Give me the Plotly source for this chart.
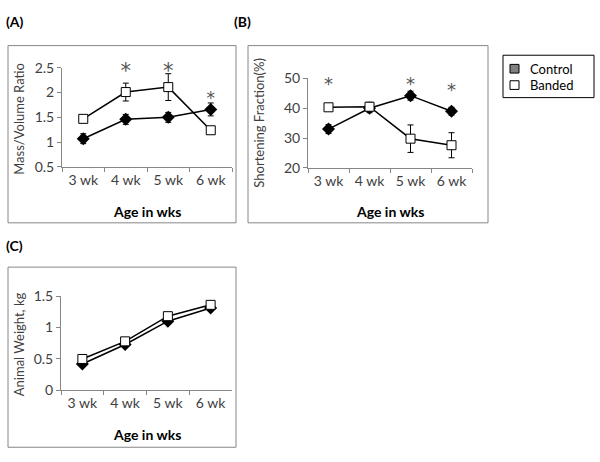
import plotly.graph_objects as go

weeks = ["3 wk", "4 wk", "5 wk", "6 wk"]

# Panel A: Mass/Volume ratio
a_control = [1.07, 1.46, 1.50, 1.66]
a_control_err = [0.10, 0.10, 0.10, 0.13]
a_banded = [1.47, 2.01, 2.11, 1.24]
a_banded_err = [0.03, 0.18, 0.27, 0.07]
a_star_weeks = ["4 wk", "5 wk", "6 wk"]
a_star_y = [2.40, 2.40, 1.86]
a_star_size = [21, 21, 17]

# Panel B: Shortening fraction (%)
b_control = [33.0, 40.0, 44.2, 39.0]
b_control_err = [1.5, 1.5, 1.5, 1.3]
b_banded = [40.3, 40.5, 29.8, 27.6]
b_banded_err = [1.0, 1.5, 4.6, 4.2]
b_star_weeks = ["3 wk", "5 wk", "6 wk"]
b_star_y = [47.5, 47.5, 45.5]
b_star_size = [18, 18, 18]

# Panel C: Animal weight (kg)
c_control = [0.42, 0.73, 1.10, 1.31]
c_control_err = [0.03, 0.03, 0.04, 0.03]
c_banded = [0.50, 0.78, 1.18, 1.36]
c_banded_err = [0.04, 0.04, 0.05, 0.04]

legend_names = ["Control", "Banded"]
legend_fills = ["#808080", "white"]

W, H = 600, 462
FONT = "Lato"

def px(x):
    return x / W

def py(y):
    return 1 - y / H

fig = go.Figure()

panels = [
    ("x", "y", a_control, a_control_err, a_banded, a_banded_err),
    ("x2", "y2", b_control, b_control_err, b_banded, b_banded_err),
    ("x3", "y3", c_control, c_control_err, c_banded, c_banded_err),
]

for xa, ya, cv, ce, bv, be in panels:
    fig.add_trace(go.Scatter(
        x=weeks, y=cv, xaxis=xa, yaxis=ya, mode="lines+markers",
        line=dict(color="black", width=1.5),
        marker=dict(symbol="diamond", size=10, color="black"),
        error_y=dict(type="data", array=ce, color="black", thickness=1, width=3),
        showlegend=False, cliponaxis=False))
    fig.add_trace(go.Scatter(
        x=weeks, y=bv, xaxis=xa, yaxis=ya, mode="lines+markers",
        line=dict(color="black", width=1.5),
        marker=dict(symbol="square", size=9, color="white",
                    line=dict(color="black", width=1)),
        error_y=dict(type="data", array=be, color="black", thickness=1, width=3),
        showlegend=False, cliponaxis=False))

# Significance asterisks as text traces
for xa, ya, sw, sy, ss in [("x", "y", a_star_weeks, a_star_y, a_star_size),
                           ("x2", "y2", b_star_weeks, b_star_y, b_star_size)]:
    fig.add_trace(go.Scatter(
        x=sw, y=sy, xaxis=xa, yaxis=ya, mode="text", text=["*"] * len(sw),
        textposition="middle center",
        textfont=dict(family="DejaVu Sans", size=ss, color="#555555"),
        showlegend=False, cliponaxis=False, hoverinfo="skip"))

xaxis_common = dict(type="category", range=[-0.5, 3.5], showline=True,
                    linecolor="#868686", linewidth=1, ticks="outside",
                    tickson="boundaries", ticklen=4, tickcolor="#868686",
                    showgrid=False, zeroline=False,
                    tickfont=dict(family=FONT, size=14, color="#404040"))
yaxis_common = dict(showline=True, linecolor="#868686", linewidth=1,
                    ticks="outside", ticklen=4, tickcolor="#868686",
                    showgrid=False, zeroline=False,
                    tickfont=dict(family=FONT, size=14, color="#404040"))

fig.update_layout(
    width=W, height=H, margin=dict(l=0, r=0, t=0, b=0),
    paper_bgcolor="white", plot_bgcolor="white",
    font=dict(family=FONT, color="black"),
    xaxis=dict(xaxis_common, domain=[px(62), px(232)], anchor="y"),
    yaxis=dict(yaxis_common, domain=[py(164), py(61)], range=[0.5, 2.5],
               dtick=0.5, anchor="x"),
    xaxis2=dict(xaxis_common, domain=[px(308), px(472)], anchor="y2"),
    yaxis2=dict(yaxis_common, domain=[py(165), py(72)], range=[20, 50],
                dtick=10, anchor="x2"),
    xaxis3=dict(xaxis_common, domain=[px(61), px(232)], anchor="y3"),
    yaxis3=dict(yaxis_common, domain=[py(396), py(298)], range=[0, 1.5],
                dtick=0.5, anchor="x3"),
    showlegend=False,
)

# Panel boxes
for x0, y0, x1, y1 in [(8, 38, 236, 222), (248, 38, 488, 222), (8, 268, 236, 455)]:
    fig.add_shape(type="rect", xref="paper", yref="paper",
                  x0=px(x0), x1=px(x1), y0=py(y1), y1=py(y0),
                  line=dict(color="#868686", width=1))

# Legend box
fig.add_shape(type="rect", xref="paper", yref="paper",
              x0=px(503), x1=px(594), y0=py(92), y1=py(48),
              line=dict(color="black", width=1))
for name, fill, yc in zip(legend_names, legend_fills, [62, 79]):
    fig.add_shape(type="rect", xref="paper", yref="paper",
                  x0=px(510), x1=px(519), y0=py(yc + 4.5), y1=py(yc - 4.5),
                  fillcolor=fill, line=dict(color="black", width=1))
    fig.add_annotation(text=name, xref="paper", yref="paper", x=px(528), y=py(yc),
                       xanchor="left", yanchor="middle", showarrow=False,
                       font=dict(family=FONT, size=13, color="black"))

# Panel labels
for txt, x, y in [("(A)", 4, 13), ("(B)", 232, 13), ("(C)", 4, 246)]:
    fig.add_annotation(text="<b>%s</b>" % txt, xref="paper", yref="paper",
                       x=px(x), y=py(y), xanchor="left", yanchor="middle",
                       showarrow=False, font=dict(family=FONT, size=14))

# Axis titles
for txt, x, y in [("Age in wks", 147, 210), ("Age in wks", 390, 210),
                  ("Age in wks", 147, 442)]:
    fig.add_annotation(text="<b>%s</b>" % txt, xref="paper", yref="paper",
                       x=px(x), y=py(y), xanchor="center", yanchor="middle",
                       showarrow=False, font=dict(family=FONT, size=14))
for txt, x, y in [("Mass/Volume Ratio", 19, 114), ("Shortening Fraction(%)", 259, 118),
                  ("Animal Weight, kg", 19, 348)]:
    fig.add_annotation(text=txt, xref="paper", yref="paper", x=px(x), y=py(y),
                       xanchor="center", yanchor="middle",
                       textangle=-90, showarrow=False,
                       font=dict(family=FONT, size=13, color="#404040"))

fig.write_html("out.html", config={"displayModeBar": False},
               post_script="document.body.style.margin='0';"
                           "document.body.style.overflow='hidden';")
